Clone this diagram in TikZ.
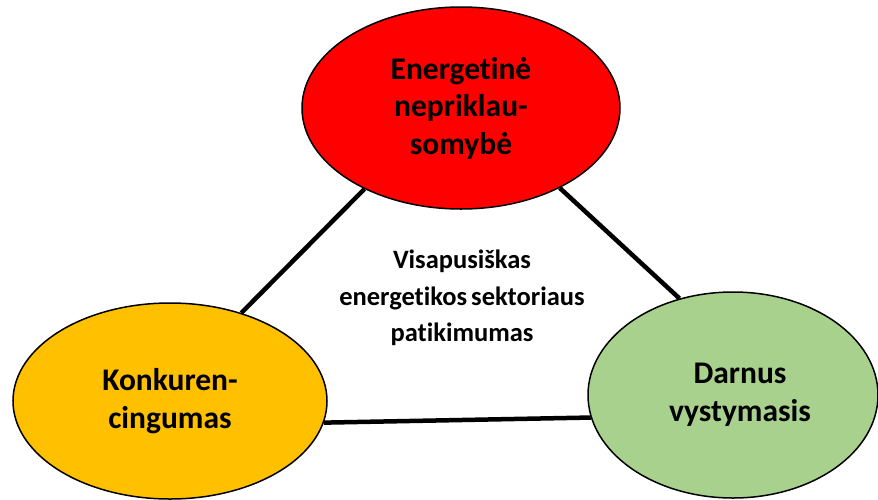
\documentclass[tikz,border=0pt]{standalone}
\usepackage{fontspec}
\setmainfont[Ligatures=NoCommon]{Carlito}
\usetikzlibrary{shapes.geometric}
\definecolor{redfill}{HTML}{FF0000}
\definecolor{orangefill}{HTML}{FFC000}
\definecolor{greenfill}{HTML}{A9D18E}
\tikzset{
  blob/.style={ellipse, draw=black, line width=1.5pt, inner sep=0pt, align=center,
    font=\fontsize{31.5}{37.5}\selectfont\bfseries},
  link/.style={line width=4.5pt, black},
  centertext/.style={align=center, font=\fontsize{26.5}{36.5}\selectfont\bfseries}
}
\begin{document}
\begin{tikzpicture}[x=1pt,y=-1pt]
\useasboundingbox (0,0) rectangle (878,499);
\node[blob, fill=redfill, minimum width=318pt, minimum height=202pt] (red) at (461,108) {Energetinė\\nepriklau-\\somybė};
\node[blob, fill=orangefill, minimum width=314pt, minimum height=196pt] (orange) at (170,401) {Konkuren-\\cingumas};
\node[blob, fill=greenfill, minimum width=290pt, minimum height=206pt] (green) at (733,395) {\hspace*{14pt}Darnus\\\hspace*{14pt}vystymasis};
\node[centertext] (center) at (462,298) {Visapusiškas\\energetikos\hspace{-2pt} sektoriaus\\patikimumas};
\draw[link] (red.220.7) -- (orange.51.5);
\draw[link] (red.-39.9) -- (green.119.7);
\draw[link] (orange.-8.4) -- (green.189.8);
\end{tikzpicture}
\end{document}
